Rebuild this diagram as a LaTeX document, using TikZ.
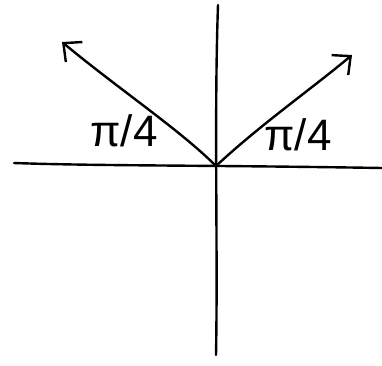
\documentclass[tikz,border=0pt]{standalone}
\usepackage{fontspec}
\setmainfont{Liberation Sans}
\usetikzlibrary{arrows.meta}
\begin{document}
\begin{tikzpicture}[x=1pt,y=-1pt,
  pen/.style={line width=2.4pt,line cap=round,line join=round},
  lab/.style={font=\fontsize{44}{48}\selectfont, inner sep=0pt}]
\useasboundingbox (0,0) rectangle (382,365);
\coordinate (O) at (216,166);
\coordinate (XL) at (14,163);
\coordinate (XR) at (382,168);
\coordinate (YT) at (218,5);
\coordinate (YB) at (216,355);
\coordinate (L) at (62,42);
\coordinate (R) at (352,55);
% axes
\draw[pen] (XL) .. controls (100,166) and (200,165) .. (XR);
\draw[pen] (YT) .. controls (214,120) and (218,250) .. (YB);
% vectors
\draw[pen,-{Straight Barb[length=14pt,width=26pt,line width=2.4pt]}] (O) .. controls (180,130) and (120,90) .. (L);
\draw[pen,-{Straight Barb[length=14pt,width=26pt,line width=2.4pt]}] (O) .. controls (260,125) and (310,90) .. (R);
% labels
\node[lab] (lleft) at (124,131) {π/4};
\node[lab] (lright) at (298,135) {π/4};
\end{tikzpicture}
\end{document}
